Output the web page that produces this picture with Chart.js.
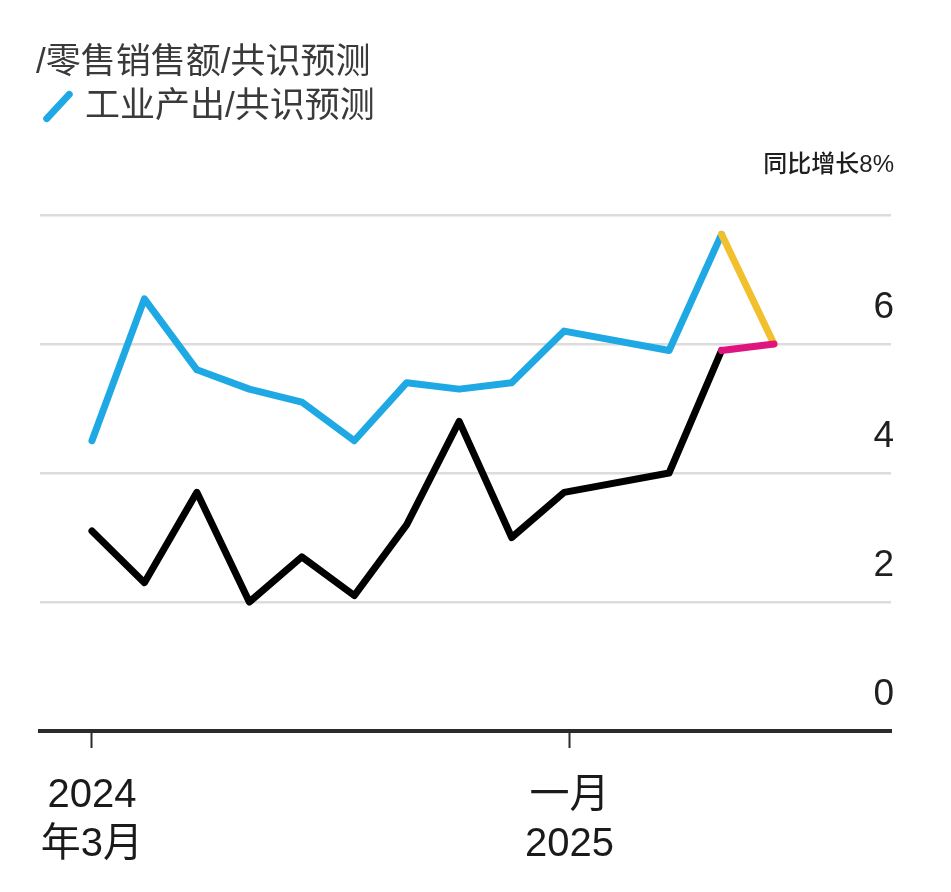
<!DOCTYPE html>
<html>
<head>
<meta charset="utf-8">
<script src="https://cdn.jsdelivr.net/npm/chart.js@4/dist/chart.umd.min.js"></script>
<style>
  html,body{margin:0;padding:0;background:#fff;}
  #wrap{position:relative;width:951px;height:892px;overflow:hidden;}
  canvas{position:absolute;left:0;top:0;}
  .lg{position:absolute;font-family:"Liberation Sans","Noto Sans CJK SC",sans-serif;font-size:35px;color:#3a3a3a;white-space:nowrap;line-height:1;}
  #icon{position:absolute;left:38px;top:103px;width:40px;height:7px;background:#1fa9e4;border-radius:4px;transform:rotate(-47deg);}
</style>
</head>
<body>
<div id="wrap">
  <canvas id="c" width="951" height="892"></canvas>
  <div class="lg" style="left:36px;top:43px;">/零售销售额/共识预测</div>
  <div id="icon"></div>
  <div class="lg" style="left:85px;top:87px;">工业产出/共识预测</div>
</div>
<script>
// month index: 0 = 2024年3月 ... (Jan 2025 combined into Feb)
const monthIdx      = [0,1,2,3,4,5,6,7,8,9,11,12];
const retailSales   = [3.1,2.3,3.7,2.0,2.7,2.1,3.2,4.8,3.0,3.7,4.0,5.9];
const industrialOut = [4.5,6.7,5.6,5.3,5.1,4.5,5.4,5.3,5.4,6.2,5.9,7.7];
const forecastIdx   = [12,13];
const retailFcst    = [5.9,6.0];
const industFcst    = [7.7,6.0];
const yTicks        = [0,2,4,6,8];
const xTickValues   = [0,9.1];
const xTickLabels   = [["2024","年3月"],["一月","2025"]];
const unitLabel     = "同比增长8%";

const pts = (xs, ys) => xs.map((x,i)=>({x:x,y:ys[i]}));
const FONT = '"Liberation Sans","Noto Sans CJK SC",sans-serif';

const common = {borderWidth:7, pointRadius:0, pointHoverRadius:0, tension:0, borderJoinStyle:'round', borderCapStyle:'round', fill:false};

new Chart(document.getElementById('c'), {
  type:'line',
  data:{
    datasets:[
      Object.assign({label:'零售销售额共识预测', data:pts(forecastIdx, retailFcst), borderColor:'#e0147f', order:0}, common),
      Object.assign({label:'工业产出共识预测', data:pts(forecastIdx, industFcst), borderColor:'#f2c02c', order:1}, common),
      Object.assign({label:'工业产出', data:pts(monthIdx, industrialOut), borderColor:'#1fa9e4', order:2}, common),
      Object.assign({label:'零售销售额', data:pts(monthIdx, retailSales), borderColor:'#000000', order:3}, common)
    ]
  },
  options:{
    responsive:false,
    animation:false,
    events:[],
    layout:{padding:{top:215,left:40,right:60,bottom:0}},
    plugins:{legend:{display:false},tooltip:{enabled:false}},
    scales:{
      x:{
        type:'linear', min:-0.99, max:15.23,
        afterBuildTicks: s => { s.ticks = xTickValues.map(v=>({value:v})); },
        afterFit: s => { s.height = 892 - 731; },
        border:{display:true, color:'#2b2b2b', width:4},
        grid:{display:true, drawOnChartArea:false, drawTicks:true, tickLength:17, tickColor:'#2b2b2b', tickWidth:2},
        ticks:{
          autoSkip:false, maxRotation:0, padding:24, color:'#1a1a1a',
          font:{family:FONT, size:40, lineHeight:1.22},
          callback: (v) => { const i = xTickValues.indexOf(v); return i>=0 ? xTickLabels[i] : ''; }
        }
      },
      y:{
        type:'linear', position:'right', min:0, max:8,
        afterBuildTicks: s => { s.ticks = yTicks.map(v=>({value:v})); },
        afterFit: s => { s.width = 0; },
        border:{display:false},
        grid:{drawTicks:false, lineWidth:2.5, color: c => (c.tick && c.tick.value===0) ? 'rgba(0,0,0,0)' : '#dcdcdc'},
        ticks:{
          mirror:true, padding:3, labelOffset:-36, color:'#1f1f1f',
          font: c => (c.tick && c.tick.value===8) ? {family:FONT, size:24, weight:'500', lineHeight:1.1} : {family:FONT, size:37},
          callback: v => v===8 ? [unitLabel,''] : String(v)
        }
      }
    }
  }
});
</script>
</body>
</html>
